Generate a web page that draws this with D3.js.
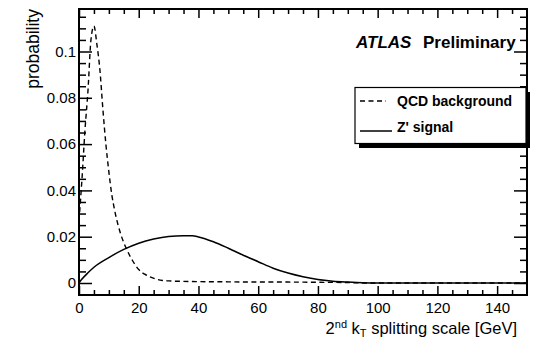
<!DOCTYPE html>
<html><head><meta charset="utf-8">
<script src="https://cdn.jsdelivr.net/npm/d3@7"></script>
<style>
body{margin:0;background:#fff;}
svg text{font-family:"Liberation Sans",Arial,Helvetica,sans-serif;fill:#000;}
</style></head>
<body><svg id="c" width="535" height="338"></svg>
<script>
// ---- data ----
const qcdK = [0, 1, 2, 3, 4, 5, 6, 7, 8, 9, 10, 11, 12, 14, 16, 18, 20, 22, 24, 26, 28, 30, 35, 40, 50, 60, 70, 80, 90, 95, 100, 150];
const qcdP = [0.027, 0.045, 0.066, 0.083, 0.105, 0.111, 0.103, 0.092, 0.075, 0.060, 0.048, 0.038, 0.031, 0.021, 0.0145, 0.0095, 0.0058, 0.0038, 0.0025, 0.0016, 0.0011, 0.0009, 0.0007, 0.0006, 0.0005, 0.0004, 0.0004, 0.0003, 0.0002, 0, 0, 0];
const sigK = [0, 1, 3, 5, 10, 15, 20, 25, 30, 35, 38, 40, 45, 50, 55, 60, 65, 70, 75, 80, 85, 90, 95, 100, 150];
const sigP = [0, 0.0017, 0.0044, 0.0068, 0.011, 0.0145, 0.0172, 0.019, 0.0201, 0.0204, 0.0204, 0.0199, 0.0178, 0.0150, 0.0120, 0.0092, 0.0064, 0.0043, 0.0027, 0.0015, 0.0008, 0.0004, 0.0001, 0, 0];
const xMajor = [0, 20, 40, 60, 80, 100, 120, 140];
const xMinor = [5, 10, 15, 25, 30, 35, 45, 50, 55, 65, 70, 75, 85, 90, 95, 105, 110, 115, 125, 130, 135, 145];
const yMajor = [0, 0.02, 0.04, 0.06, 0.08, 0.1];
const yMinor = [0.005, 0.01, 0.015, 0.025, 0.03, 0.035, 0.045, 0.05, 0.055, 0.065, 0.07, 0.075, 0.085, 0.09, 0.095, 0.105, 0.11, 0.115];
const legendLabels = ["QCD background", "Z' signal"];

// ---- layout ----
const svg = d3.select("#c");
const L = 79, R = 527, T = 9, B = 295;
const x = d3.scaleLinear().domain([0, 150]).range([L, R]);
const y = d3.scaleLinear().domain([0, 0.02]).range([283, 236.7]);
const fmt = d => String(+d.toFixed(3));

function styleAxis(g){ g.select(".domain").remove(); g.selectAll("line").attr("stroke","#000").attr("stroke-width",1.5); g.selectAll("text").attr("font-size","15px").attr("font-family","Liberation Sans, Arial, sans-serif"); }

// bottom
svg.append("g").attr("transform",`translate(0,${B})`)
  .call(d3.axisBottom(x).tickValues(xMajor).tickSize(-9).tickPadding(7.5).tickFormat(fmt)).call(styleAxis);
svg.append("g").attr("transform",`translate(0,${B})`)
  .call(d3.axisBottom(x).tickValues(xMinor).tickSize(-5).tickFormat("")).call(styleAxis);
// top
svg.append("g").attr("transform",`translate(0,${T})`)
  .call(d3.axisTop(x).tickValues(xMajor).tickSize(-9).tickFormat("")).call(styleAxis);
svg.append("g").attr("transform",`translate(0,${T})`)
  .call(d3.axisTop(x).tickValues(xMinor).tickSize(-5).tickFormat("")).call(styleAxis);
// left
svg.append("g").attr("transform",`translate(${L},0)`)
  .call(d3.axisLeft(y).tickValues(yMajor).tickSize(-13).tickPadding(3).tickFormat(fmt)).call(styleAxis);
svg.append("g").attr("transform",`translate(${L},0)`)
  .call(d3.axisLeft(y).tickValues(yMinor).tickSize(-7).tickFormat("")).call(styleAxis);
// right
svg.append("g").attr("transform",`translate(${R},0)`)
  .call(d3.axisRight(y).tickValues(yMajor).tickSize(-13).tickFormat("")).call(styleAxis);
svg.append("g").attr("transform",`translate(${R},0)`)
  .call(d3.axisRight(y).tickValues(yMinor).tickSize(-7).tickFormat("")).call(styleAxis);

// frame
svg.append("rect").attr("x",L).attr("y",T).attr("width",R-L).attr("height",B-T)
  .attr("fill","none").attr("stroke","#000").attr("stroke-width",2);

// curves
const line = d3.line().x(d=>x(d[0])).y(d=>y(d[1])).curve(d3.curveMonotoneX);
const qcd = qcdK.map((k,i)=>[k,qcdP[i]]);
const sig = sigK.map((k,i)=>[k,sigP[i]]);
svg.append("path").datum(sig).attr("d",line).attr("fill","none").attr("stroke","#000").attr("stroke-width",1.5);
svg.append("path").datum(qcd).attr("d",line).attr("fill","none").attr("stroke","#000").attr("stroke-width",1.4).attr("stroke-dasharray","5,3.5");

// axis titles
svg.append("text").attr("transform","translate(39,9) rotate(-90)").attr("text-anchor","end")
  .attr("font-size","17.5px").text("probability");
const xt = svg.append("text").attr("x",517).attr("y",334).attr("text-anchor","end").attr("font-size","16.5px");
xt.append("tspan").text("2");
xt.append("tspan").attr("font-size","11px").attr("dy",-6).text("nd");
xt.append("tspan").attr("dy",6).text(" k");
xt.append("tspan").attr("font-size","11px").attr("dy",3).text("T");
xt.append("tspan").attr("dy",-3).text(" splitting scale [GeV]");

// ATLAS label
const at = svg.append("text").attr("x",356).attr("y",48).attr("font-size","17px");
at.append("tspan").attr("font-weight","bold").attr("font-style","italic").text("ATLAS");
at.append("tspan").attr("x",423).attr("font-weight","bold").text("Preliminary");

// legend
const lg = svg.append("g");
lg.append("rect").attr("x",359).attr("y",92).attr("width",171).attr("height",56).attr("fill","#000");
lg.append("rect").attr("x",355).attr("y",87.5).attr("width",171).attr("height",56).attr("fill","#fff").attr("stroke","#000").attr("stroke-width",1.2);
lg.append("line").attr("x1",360).attr("x2",386).attr("y1",101).attr("y2",101).attr("stroke","#000").attr("stroke-width",1.4).attr("stroke-dasharray","5,3.5");
lg.append("line").attr("x1",360).attr("x2",392).attr("y1",131).attr("y2",131).attr("stroke","#000").attr("stroke-width",1.5);
lg.selectAll("text.lg").data(legendLabels).join("text").attr("class","lg")
  .attr("x",397).attr("y",(d,i)=>[105.5,132][i]).attr("font-size","14px").attr("font-weight","bold").text(d=>d);
</script></body></html>
